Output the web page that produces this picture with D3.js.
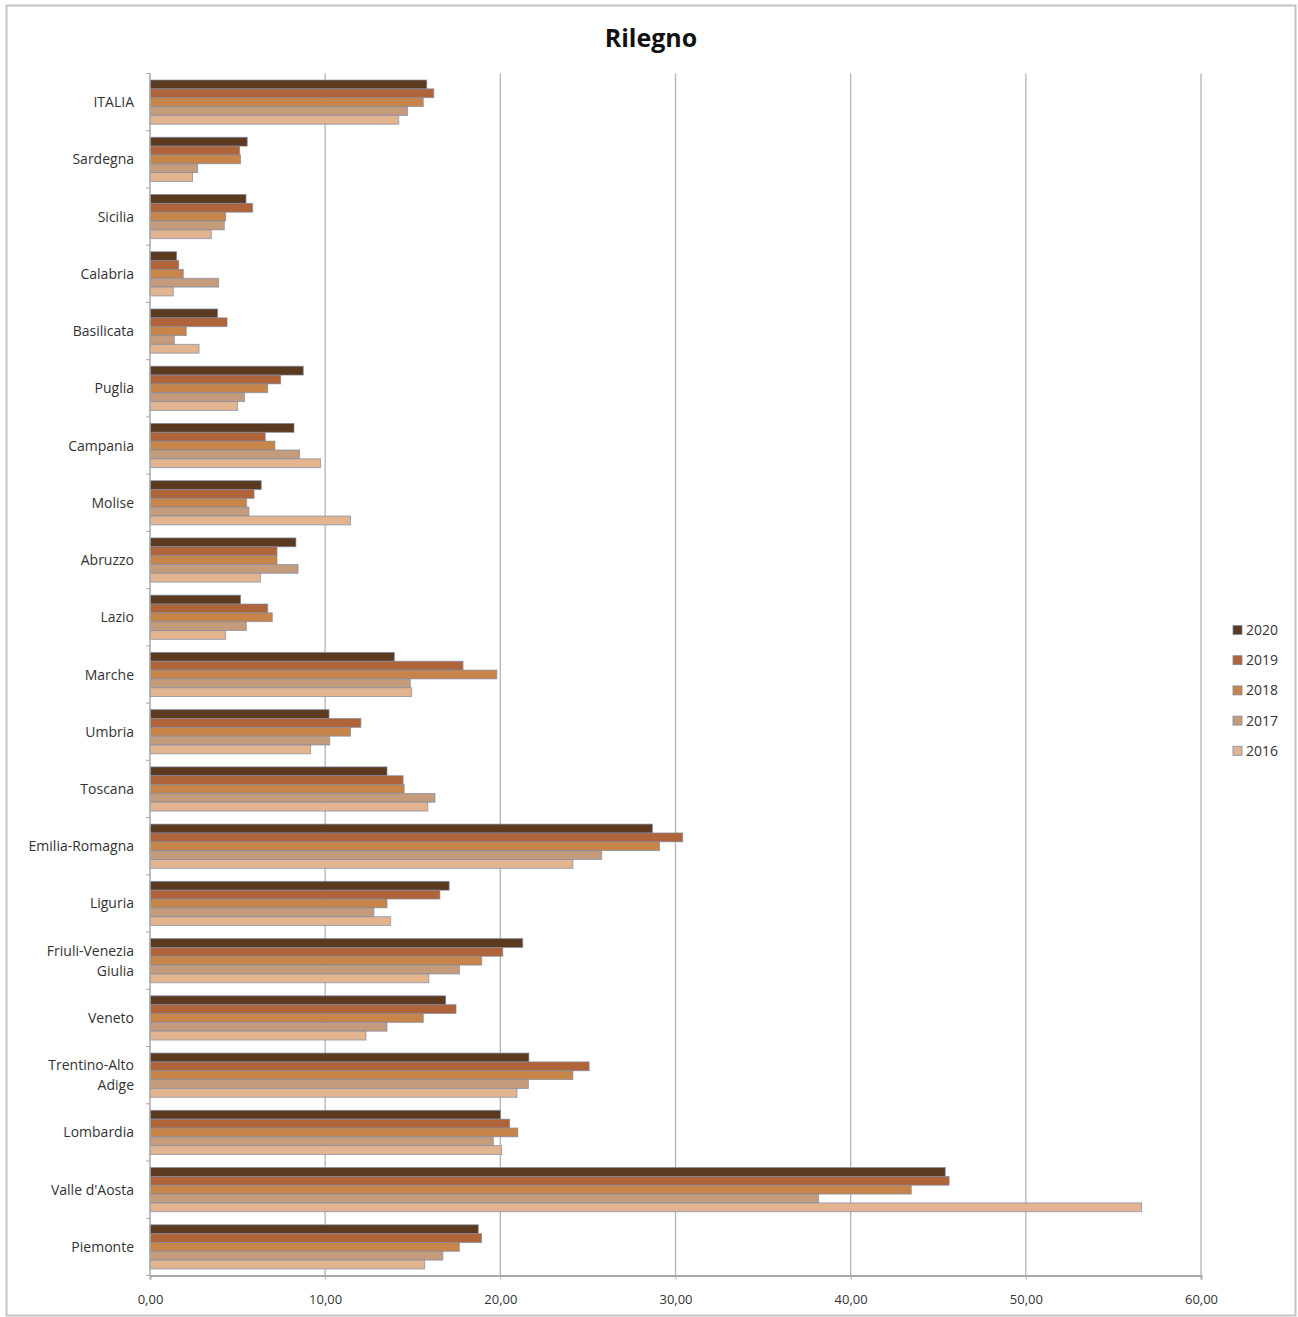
<!DOCTYPE html>
<html>
<head>
<meta charset="utf-8">
<script src="https://cdn.jsdelivr.net/npm/d3@7"></script>
<style>
  html, body { margin: 0; padding: 0; background: #fff; }
  svg { display: block; }
  text { font-family: "Open Sans", "Noto Sans", sans-serif; }
</style>
</head>
<body>
<svg id="chart" width="1298" height="1317"></svg>
<script>
// Regions, top to bottom
const regions = ["ITALIA", "Sardegna", "Sicilia", "Calabria", "Basilicata", "Puglia",
  "Campania", "Molise", "Abruzzo", "Lazio", "Marche", "Umbria", "Toscana",
  "Emilia-Romagna", "Liguria", "Friuli-Venezia Giulia", "Veneto",
  "Trentino-Alto Adige", "Lombardia", "Valle d'Aosta", "Piemonte"];

// Series years, drawn top to bottom within each group
const years = ["2020", "2019", "2018", "2017", "2016"];

const values2020 = [15.8, 5.55, 5.48, 1.52, 3.86, 8.75, 8.22, 6.35, 8.33, 5.17, 13.95, 10.22, 13.53, 28.68, 17.08, 21.28, 16.88, 21.63, 20.01, 45.40, 18.74];
const values2019 = [16.2, 5.12, 5.86, 1.64, 4.40, 7.46, 6.58, 5.94, 7.25, 6.72, 17.87, 12.04, 14.45, 30.41, 16.55, 20.14, 17.47, 25.07, 20.53, 45.62, 18.93];
const values2018 = [15.6, 5.17, 4.32, 1.90, 2.07, 6.72, 7.13, 5.52, 7.25, 6.98, 19.80, 11.45, 14.51, 29.09, 13.53, 18.94, 15.60, 24.14, 21.00, 43.46, 17.66];
const values2017 = [14.7, 2.72, 4.24, 3.92, 1.39, 5.39, 8.54, 5.65, 8.45, 5.50, 14.86, 10.26, 16.27, 25.79, 12.78, 17.67, 13.53, 21.60, 19.60, 38.17, 16.72];
const values2016 = [14.2, 2.43, 3.50, 1.33, 2.80, 4.99, 9.74, 11.45, 6.30, 4.32, 14.94, 9.17, 15.86, 24.14, 13.74, 15.92, 12.33, 20.95, 20.07, 56.61, 15.68];

const seriesValues = [values2020, values2019, values2018, values2017, values2016];
const colors = ["#5b3a20", "#b0643a", "#c7854a", "#c49b7b", "#e2b590"];
const xTicks = [0, 10, 20, 30, 40, 50, 60];

const svg = d3.select("#chart");

// outer frame
svg.append("rect")
  .attr("x", 6.5).attr("y", 5.5).attr("width", 1289).attr("height", 1310)
  .attr("fill", "none").attr("stroke", "#c4c4c4").attr("stroke-width", 2);

// title
svg.append("text")
  .attr("x", 651).attr("y", 47)
  .attr("text-anchor", "middle")
  .attr("font-size", 25).attr("font-weight", "bold").attr("fill", "#111")
  .text("Rilegno");

const plot = { left: 150, right: 1201, top: 73.5, bottom: 1275.5 };

const x = d3.scaleLinear().domain([0, 60]).range([plot.left, plot.right]);
const y = d3.scaleBand().domain(regions).range([plot.top, plot.bottom]).padding(0);
const yInner = d3.scaleBand().domain(years)
  .range([y.bandwidth() * 0.114, y.bandwidth() * (1 - 0.114)]).padding(0);

// vertical gridlines
svg.append("g")
  .selectAll("line")
  .data(xTicks.slice(1))
  .join("line")
  .attr("x1", d => x(d)).attr("x2", d => x(d))
  .attr("y1", plot.top).attr("y2", plot.bottom)
  .attr("stroke", "#b4b4b4").attr("stroke-width", 1.3);

// bars
const rows = regions.map((r, i) => ({ region: r, vals: years.map((yr, j) => ({ year: yr, v: seriesValues[j][i], c: colors[j] })) }));

const groups = svg.append("g").selectAll("g")
  .data(rows)
  .join("g")
  .attr("transform", d => `translate(0,${y(d.region)})`);

groups.selectAll("rect")
  .data(d => d.vals)
  .join("rect")
  .attr("x", x(0))
  .attr("y", d => yInner(d.year))
  .attr("width", d => x(d.v) - x(0))
  .attr("height", yInner.bandwidth())
  .attr("fill", d => d.c)
  .attr("stroke", "#7b8aa6")
  .attr("stroke-opacity", 0.75)
  .attr("stroke-width", 0.9);

// x axis
const xAxis = d3.axisBottom(x)
  .tickValues(xTicks)
  .tickSize(4)
  .tickFormat(d => d3.format(".2f")(d).replace(".", ","));

const gx = svg.append("g")
  .attr("transform", `translate(0,${plot.bottom})`)
  .call(xAxis);
gx.select(".domain").attr("stroke", "#a8a8a8").attr("stroke-width", 2);
gx.selectAll(".tick line").attr("stroke", "#a8a8a8");
gx.selectAll(".tick text")
  .attr("y", 19)
  .attr("font-size", 13).attr("fill", "#333")
  .attr("font-family", "'Open Sans', sans-serif");

// y axis (line + small ticks at band boundaries)
svg.append("line")
  .attr("x1", plot.left).attr("x2", plot.left)
  .attr("y1", plot.top).attr("y2", plot.bottom)
  .attr("stroke", "#a8a8a8").attr("stroke-width", 1.5);

svg.append("g").selectAll("line")
  .data(regions.concat(["__end"]))
  .join("line")
  .attr("x1", plot.left - 4).attr("x2", plot.left)
  .attr("y1", (d, i) => plot.top + i * y.step())
  .attr("y2", (d, i) => plot.top + i * y.step())
  .attr("stroke", "#a8a8a8");

// category labels, wrapping the two long names
const labelLines = {
  "Friuli-Venezia Giulia": ["Friuli-Venezia", "Giulia"],
  "Trentino-Alto Adige": ["Trentino-Alto", "Adige"]
};

const lbl = svg.append("g").selectAll("text")
  .data(regions)
  .join("text")
  .attr("text-anchor", "end")
  .attr("font-size", 14).attr("fill", "#333")
  .attr("x", 134)
  .attr("y", d => y(d) + y.bandwidth() / 2 + 5);

lbl.each(function (d) {
  const lines = labelLines[d];
  const t = d3.select(this);
  if (!lines) { t.text(d); return; }
  t.attr("y", y(d) + y.bandwidth() / 2 - 5);
  lines.forEach((ln, k) => {
    t.append("tspan").attr("x", 134).attr("dy", k === 0 ? 0 : 20).text(ln);
  });
});

// legend
const legend = svg.append("g").attr("transform", "translate(1233,630)");
years.forEach((yr, j) => {
  const g = legend.append("g").attr("transform", `translate(0,${j * 30.2})`);
  g.append("rect")
    .attr("x", 0).attr("y", -4.5).attr("width", 9).attr("height", 9)
    .attr("fill", colors[j]).attr("stroke", "#7b8aa6").attr("stroke-width", 0.8);
  g.append("text")
    .attr("x", 13).attr("y", 5)
    .attr("font-size", 14).attr("fill", "#333")
    .text(yr);
});
</script>
</body>
</html>
